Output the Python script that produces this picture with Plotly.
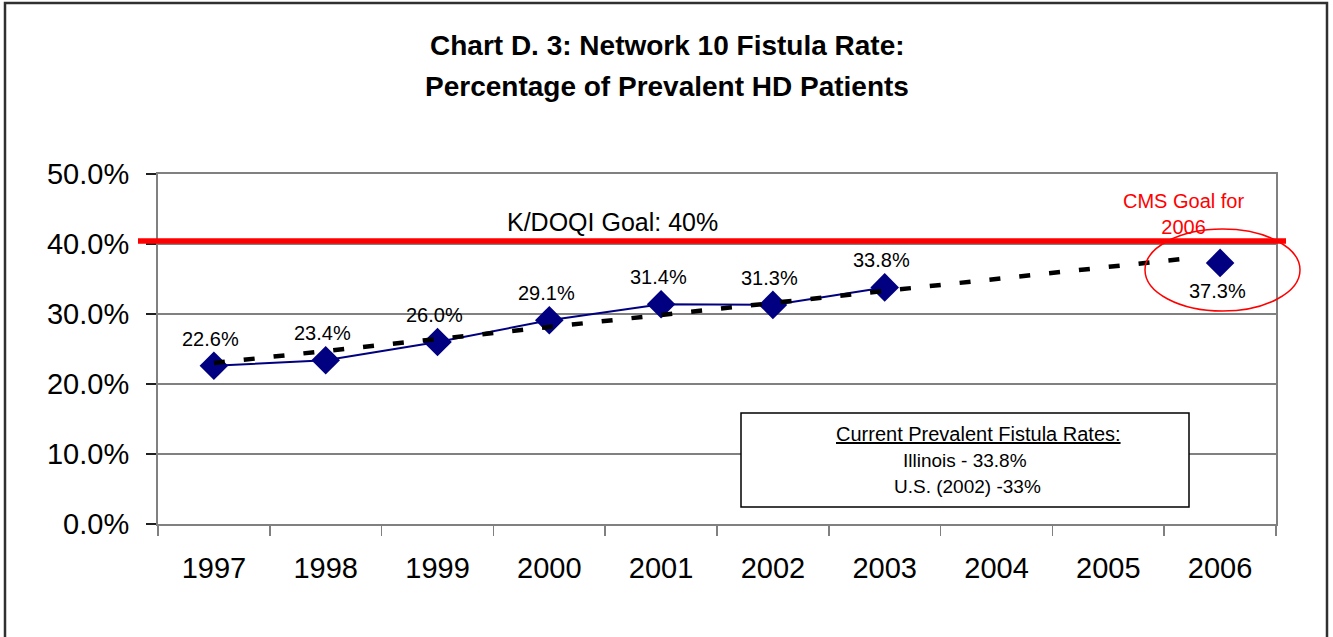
import plotly.graph_objects as go

# ---- data ----
years = [1997, 1998, 1999, 2000, 2001, 2002, 2003, 2004, 2005, 2006]
fistula_rate = [22.6, 23.4, 26.0, 29.1, 31.4, 31.3, 33.8, None, None, 37.3]
rate_labels = ["22.6%", "23.4%", "26.0%", "29.1%", "31.4%", "31.3%", "33.8%", None, None, "37.3%"]
trend_x = [1997, 2005.8]
trend_y = [23.0, 38.1]
goal_kdoqi = 40
y_ticks = [0, 10, 20, 30, 40, 50]
y_ticktext = ["0.0%", "10.0%", "20.0%", "30.0%", "40.0%", "50.0%"]
box_lines = ["Current Prevalent Fistula Rates:", "Illinois - 33.8%", "U.S. (2002) -33%"]

FONT = "Arial, Liberation Sans, sans-serif"
W, H = 1333, 637
L, R, T, B = 158, 1276, 174, 524
PW, PH = R - L, B - T


def px(xp):
    return (xp - L) / PW


def py(yp):
    return (B - yp) / PH


fig = go.Figure()

fig.add_trace(go.Scatter(
    x=years, y=fistula_rate, mode="lines+markers",
    line=dict(color="#000080", width=2),
    marker=dict(symbol="diamond", size=22, color="#000080"),
    connectgaps=False, showlegend=False, hoverinfo="skip"))

fig.add_trace(go.Scatter(
    x=trend_x, y=trend_y, mode="lines",
    line=dict(color="black", width=4.5, dash="11px,19px"),
    showlegend=False, hoverinfo="skip"))

annotations = []
for yr, v, lab in zip(years, fistula_rate, rate_labels):
    if v is None:
        continue
    shift = -28 if yr == 2006 else 27
    annotations.append(dict(x=yr, y=v, xref="x", yref="y", text=lab, showarrow=False,
                            xanchor="center", yanchor="middle",
                            xshift=-3, yshift=shift,
                            font=dict(family=FONT, size=20, color="black")))


def note(xp, yp, text, size, color="black", family=FONT):
    annotations.append(dict(x=px(xp), y=py(yp), xref="paper", yref="paper",
                            text=text, showarrow=False, xanchor="center", yanchor="middle",
                            font=dict(family=family, size=size, color=color)))


# title
note(667, 45, "<b>Chart D. 3: Network 10 Fistula Rate:</b>", 28)
note(667, 86, "<b>Percentage of Prevalent HD Patients</b>", 28)
# goal texts
note(612, 222, "K/DOQI Goal: 40%", 25)
note(1183, 214, "CMS Goal for<br>2006", 20, color="#FF0000")
# box text
for i, (t, xx, yy) in enumerate(zip(box_lines, [978, 965, 967], [434, 460, 486])):
    note(xx, yy, "<u>%s</u>" % t if i == 0 else t, 20 if i == 0 else 19)

shapes = [
    # outer border
    dict(type="rect", xref="paper", yref="paper", x0=px(5), x1=px(1327), y0=py(660), y1=py(3),
         line=dict(color="#303030", width=2.5), layer="below"),
    # K/DOQI goal line (anchored at the goal value, drawn just above the gridline)
    dict(type="line", xref="paper", yref="y", ysizemode="pixel", yanchor=goal_kdoqi,
         x0=px(138), x1=px(1286), y0=3, y1=3,
         line=dict(color="#FF0000", width=5.5), layer="above"),
    # CMS ellipse
    dict(type="circle", xref="paper", yref="paper", x0=px(1145), x1=px(1300), y0=py(311), y1=py(229),
         line=dict(color="#FF0000", width=1.5), layer="above"),
    # text box
    dict(type="rect", xref="paper", yref="paper", x0=px(741), x1=px(1189), y0=py(507), y1=py(413),
         line=dict(color="black", width=1.5), fillcolor="white", layer="above"),
]

fig.update_layout(
    width=W, height=H,
    margin=dict(l=L, r=W - R, t=T, b=H - B, pad=0),
    paper_bgcolor="white", plot_bgcolor="white",
    font=dict(family=FONT, color="black"),
    annotations=annotations, shapes=shapes,
    showlegend=False,
)

fig.update_xaxes(
    range=[1996.5, 2006.5], tickmode="array", tickvals=years,
    ticktext=[str(y) for y in years], ticks="",
    tickfont=dict(family=FONT, size=29, color="black"),
    showgrid=False, zeroline=False,
    showline=True, linecolor="#808080", linewidth=2, mirror=True,
    minor=dict(tickmode="array", tickvals=[y - 0.5 for y in years] + [2006.5],
               ticks="outside", ticklen=10, tickcolor="#808080", tickwidth=1.5, showgrid=False),
    ticklabelstandoff=17,
)
fig.update_yaxes(
    range=[0, 50], tickmode="array", tickvals=y_ticks, ticktext=y_ticktext,
    ticks="outside", ticklen=10, tickcolor="#202020", tickwidth=1.5,
    tickfont=dict(family=FONT, size=29, color="black"),
    showgrid=True, gridcolor="#808080", gridwidth=1.2, zeroline=False,
    showline=True, linecolor="#808080", linewidth=2, mirror=True,
    ticklabelstandoff=11,
)

fig.write_html("out.html", config={"displayModeBar": False, "staticPlot": True},
               post_script="document.body.style.margin='0px';document.body.style.overflow='hidden';")
